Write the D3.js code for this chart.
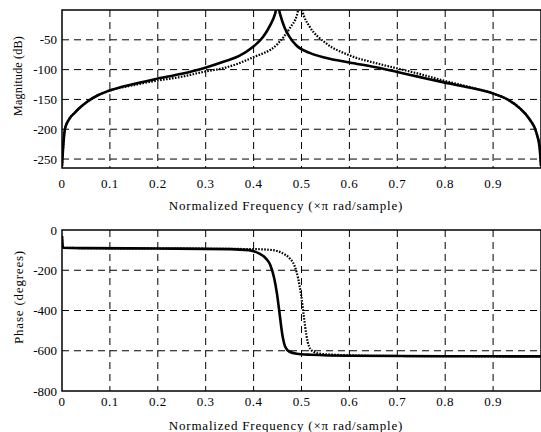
<!DOCTYPE HTML>
<html>
<head>
<meta charset="utf-8">
<script type="text/javascript" src="https://d3js.org/d3.v7.min.js"></script>
<style>
  body { margin: 0; background: #fff; }
  text { font-family: "Liberation Serif", "DejaVu Serif", serif; fill: #000; }
</style>
</head>
<body>
<div id="chart"></div>
<script type="text/javascript">
// frequency ticks (x pi rad/sample)
var freqTicks = [0, 0.1, 0.2, 0.3, 0.4, 0.5, 0.6, 0.7, 0.8, 0.9];
var magTicks = [-50, -100, -150, -200, -250];
var phaseTicks = [0, -200, -400, -600, -800];

// magnitude, solid curve (pole near 0.45)
var magSolidF = [0, 0.002, 0.006, 0.015, 0.027, 0.04, 0.054, 0.075, 0.096, 0.15, 0.194, 0.25, 0.294, 0.34, 0.37, 0.397, 0.42, 0.435, 0.445, 0.45, 0.455, 0.465, 0.475, 0.49, 0.517, 0.55, 0.6, 0.655, 0.7, 0.75, 0.795, 0.85, 0.9, 0.93, 0.956, 0.975, 0.99, 0.997, 1.0];
var magSolid  = [-262, -235, -200, -183, -172, -162, -153, -143, -136, -124, -116, -107, -98, -86, -77, -63, -45, -25, -6, 10, -6, -30, -45, -60, -72, -80, -88, -96, -104, -113, -121, -130, -140, -150, -165, -182, -205, -230, -262];

// magnitude, dotted curve (pole near 0.5)
var magDotF = [0, 0.002, 0.006, 0.015, 0.027, 0.04, 0.054, 0.075, 0.096, 0.15, 0.194, 0.25, 0.294, 0.34, 0.397, 0.45, 0.476, 0.49, 0.497, 0.505, 0.517, 0.55, 0.6, 0.655, 0.7, 0.75, 0.795, 0.85, 0.9, 0.93, 0.956, 0.975, 0.99, 0.997, 1.0];
var magDot  = [-262, -235, -200, -183, -172, -162, -153, -143, -136, -126, -119, -112, -104, -97, -80, -57, -30, -10, 10, -10, -28, -55, -76, -89, -98, -108, -118, -129, -140, -150, -165, -182, -205, -230, -262];

// phase in degrees
var phSolidF = [0, 0.002, 0.05, 0.2, 0.35, 0.39, 0.41, 0.425, 0.435, 0.443, 0.449, 0.455, 0.46, 0.466, 0.475, 0.49, 0.52, 0.6, 0.8, 1.0];
var phSolid  = [-30, -88, -90, -92, -95, -100, -115, -140, -175, -240, -320, -430, -520, -580, -605, -615, -620, -625, -627, -628];
var phDotF = [0, 0.002, 0.05, 0.2, 0.4, 0.44, 0.46, 0.475, 0.485, 0.493, 0.499, 0.505, 0.51, 0.516, 0.525, 0.54, 0.57, 0.65, 0.8, 1.0];
var phDot  = [-30, -88, -90, -92, -95, -100, -115, -140, -175, -240, -320, -430, -520, -580, -605, -615, -620, -625, -627, -628];

var W = 541, H = 432;
var left = 62, right = 541;

var svg = d3.select("#chart").append("svg")
  .attr("width", W).attr("height", H);

var x = d3.scaleLinear().domain([0, 1]).range([left, right]);

function panel(id, top, bottom, domain, yTicks, ylabel, ylab, xTickY, xLabelY, series) {
  var y = d3.scaleLinear().domain(domain).range([bottom, top]);
  var g = svg.append("g");

  g.append("clipPath").attr("id", id)
    .append("rect").attr("x", left).attr("y", top)
    .attr("width", right - left).attr("height", bottom - top);

  // dashed grid
  g.selectAll(".vg").data(freqTicks.slice(1)).enter().append("line")
    .attr("x1", function(d) { return x(d); }).attr("x2", function(d) { return x(d); })
    .attr("y1", top).attr("y2", bottom)
    .attr("stroke", "#000").attr("stroke-width", 1).attr("stroke-dasharray", "7,5");
  g.selectAll(".hg").data(yTicks.filter(function(d) { return y(d) > top + 1 && y(d) < bottom - 1; }))
    .enter().append("line")
    .attr("x1", left).attr("x2", right)
    .attr("y1", function(d) { return y(d); }).attr("y2", function(d) { return y(d); })
    .attr("stroke", "#000").attr("stroke-width", 1).attr("stroke-dasharray", "7,5");

  // curves
  series.forEach(function(s) {
    var pts = s.f.map(function(f, i) { return [f, s.v[i]]; });
    g.append("path").datum(pts)
      .attr("clip-path", "url(#" + id + ")")
      .attr("fill", "none").attr("stroke", "#000")
      .attr("stroke-width", s.dotted ? 2.2 : 2.6)
      .attr("stroke-dasharray", s.dotted ? "1.6,1.4" : null)
      .attr("d", d3.line().curve(d3.curveMonotoneX)
        .x(function(d) { return x(d[0]); }).y(function(d) { return y(d[1]); }));
  });

  // frame
  g.append("rect").attr("x", left).attr("y", top)
    .attr("width", right - left).attr("height", bottom - top)
    .attr("fill", "none").attr("stroke", "#000").attr("stroke-width", 1.5);

  // tick labels
  g.selectAll(".yt").data(yTicks).enter().append("text")
    .attr("x", left - 5).attr("y", function(d) { return y(d); })
    .attr("dy", "0.35em").attr("text-anchor", "end").attr("font-size", 13)
    .text(function(d) { return d; });
  g.selectAll(".xt").data(freqTicks).enter().append("text")
    .attr("x", function(d) { return x(d); }).attr("y", xTickY)
    .attr("dy", "0.35em").attr("text-anchor", "middle").attr("font-size", 13)
    .attr("letter-spacing", 0.5)
    .text(function(d) { return d; });

  g.append("text").attr("x", 286).attr("y", xLabelY).attr("dy", "0.35em")
    .attr("text-anchor", "middle").attr("font-size", 13).attr("letter-spacing", 0.8)
    .text("Normalized Frequency  (\u00d7\u03c0 rad/sample)");
  g.append("text")
    .attr("transform", "translate(18," + ylab.y + ") rotate(-90)")
    .attr("dy", "0.35em").attr("text-anchor", "middle")
    .attr("font-size", ylab.size).attr("letter-spacing", ylab.spacing)
    .text(ylabel);
}

panel("clipMag", 10, 168, [-265, 0], magTicks, "Magnitude (dB)", {y: 76, size: 12, spacing: 0.2}, 183, 205, [
  {f: magSolidF, v: magSolid, dotted: false},
  {f: magDotF, v: magDot, dotted: true}
]);

panel("clipPh", 230, 391, [-800, 0], phaseTicks, "Phase (degrees)", {y: 297, size: 13, spacing: 0.8}, 401, 425, [
  {f: phSolidF, v: phSolid, dotted: false},
  {f: phDotF, v: phDot, dotted: true}
]);
</script>
</body>
</html>
